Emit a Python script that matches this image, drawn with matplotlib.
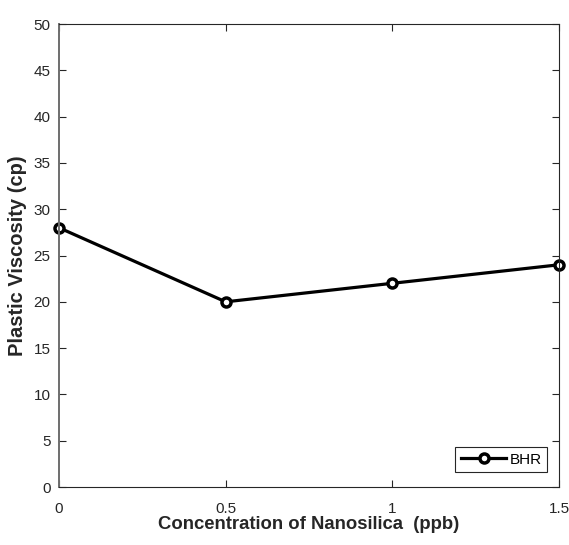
import matplotlib
matplotlib.use("Agg")
import matplotlib.pyplot as plt

conc = [0, 0.5, 1, 1.5]
viscosity = [28, 20, 22, 24]
xticks = [0, 0.5, 1, 1.5]
xticklabels = ["0", "0.5", "1", "1.5"]
yticks = list(range(0, 51, 5))

plt.rcParams['font.family'] = ['Liberation Sans', 'DejaVu Sans']

fig = plt.figure(figsize=(5.69, 5.45), dpi=100)
ax = fig.add_axes([0.1037, 0.1064, 0.8787, 0.8495])

ax.plot(conc, viscosity, color='black', lw=2.3, marker='o', markersize=6.5,
        markerfacecolor='white', markeredgewidth=2.5, label='BHR', clip_on=False)

ax.set_xlim(0, 1.5)
ax.set_ylim(0, 50)
ax.set_xticks(xticks)
ax.set_xticklabels(xticklabels)
ax.set_yticks(yticks)

axc = '#262626'
for s in ax.spines.values():
    s.set_color(axc)
    s.set_linewidth(0.8)
ax.spines['left'].set_color('#6e6e6e')
ax.spines['left'].set_linewidth(1.4)
ax.tick_params(direction='in', top=True, right=True, length=5, width=0.8,
               colors=axc, labelsize=11, labelcolor='#262626')
ax.tick_params(axis='x', pad=11)
ax.tick_params(axis='y', pad=6)

ax.set_xlabel('Concentration of Nanosilica  (ppb)', fontsize=13.3, fontweight='bold',
              color='#262626', labelpad=0)
ax.set_ylabel('Plastic Viscosity (cp)', fontsize=14.5, fontweight='bold',
              color='#262626', labelpad=5)

leg = ax.legend(loc='lower right', bbox_to_anchor=(0.976, 0.0324), fontsize=11,
                fancybox=False, framealpha=1, edgecolor=axc, handlelength=3.0,
                handletextpad=0.2, borderpad=0.35, borderaxespad=0)
leg.get_frame().set_linewidth(0.8)

fig.savefig('out.png', dpi=100)
